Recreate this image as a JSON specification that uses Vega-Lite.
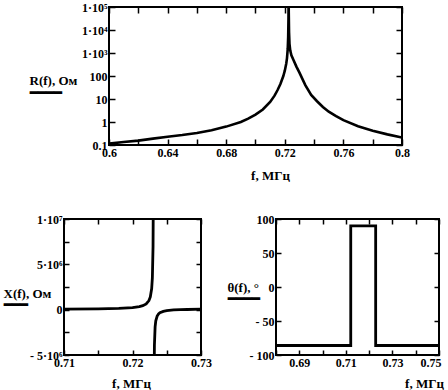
{
  "$schema": "https://vega.github.io/schema/vega-lite/v6.json",
  "padding": {"left": 2, "top": 0, "right": 0, "bottom": 0},
  "spacing": 29,
  "config": {
    "font": "Liberation Serif",
    "view": {"stroke": "black", "strokeWidth": 2},
    "axis": {
      "domain": false, "grid": false, "minExtent": 0,
      "tickColor": "black", "tickWidth": 1.5, "tickSize": -5, "labelPadding": 7,
      "labelFont": "Liberation Serif", "labelFontSize": 12, "labelFontWeight": "bold", "labelColor": "black",
      "titleFont": "Liberation Serif", "titleFontSize": 13, "titleFontWeight": "bold", "titleColor": "black",
      "labelFlush": false, "labelOverlap": false
    }
  },
  "datasets": {
    "R": [
      {"f": 0.600, "R": 0.115}, {"f": 0.610, "R": 0.135}, {"f": 0.620, "R": 0.155}, {"f": 0.630, "R": 0.19},
      {"f": 0.640, "R": 0.23}, {"f": 0.650, "R": 0.27}, {"f": 0.660, "R": 0.33}, {"f": 0.670, "R": 0.44},
      {"f": 0.680, "R": 0.63}, {"f": 0.690, "R": 1.0}, {"f": 0.695, "R": 1.4}, {"f": 0.700, "R": 2.1},
      {"f": 0.705, "R": 3.5}, {"f": 0.710, "R": 7.5}, {"f": 0.713, "R": 14}, {"f": 0.715, "R": 24},
      {"f": 0.717, "R": 45}, {"f": 0.719, "R": 100}, {"f": 0.720, "R": 170}, {"f": 0.721, "R": 350},
      {"f": 0.7215, "R": 600}, {"f": 0.722, "R": 1500}, {"f": 0.7223, "R": 5000}, {"f": 0.7225, "R": 30000},
      {"f": 0.7226, "R": 300000}, {"f": 0.7227, "R": 60000}, {"f": 0.7229, "R": 8000}, {"f": 0.7232, "R": 2500},
      {"f": 0.7237, "R": 1300}, {"f": 0.7245, "R": 800}, {"f": 0.726, "R": 480}, {"f": 0.728, "R": 250},
      {"f": 0.730, "R": 140}, {"f": 0.734, "R": 40}, {"f": 0.738, "R": 15}, {"f": 0.742, "R": 8},
      {"f": 0.746, "R": 4.5}, {"f": 0.750, "R": 2.8}, {"f": 0.755, "R": 1.8}, {"f": 0.760, "R": 1.2},
      {"f": 0.770, "R": 0.65}, {"f": 0.780, "R": 0.42}, {"f": 0.790, "R": 0.29}, {"f": 0.800, "R": 0.21}
    ],
    "X": [
      {"f": 0.7100, "X": 53000, "b": "a"}, {"f": 0.7150, "X": 86000, "b": "a"}, {"f": 0.7180, "X": 137000, "b": "a"},
      {"f": 0.7200, "X": 226000, "b": "a"}, {"f": 0.7210, "X": 333000, "b": "a"}, {"f": 0.7215, "X": 437000, "b": "a"},
      {"f": 0.7220, "X": 636000, "b": "a"}, {"f": 0.7224, "X": 1000000, "b": "a"}, {"f": 0.7226, "X": 1400000, "b": "a"},
      {"f": 0.7228, "X": 2330000, "b": "a"}, {"f": 0.7229, "X": 3500000, "b": "a"}, {"f": 0.7230, "X": 7000000, "b": "a"},
      {"f": 0.72305, "X": 14000000, "b": "a"},
      {"f": 0.72315, "X": -8000000, "b": "b"}, {"f": 0.7232, "X": -3900000, "b": "b"}, {"f": 0.7233, "X": -1900000, "b": "b"},
      {"f": 0.7234, "X": -1230000, "b": "b"}, {"f": 0.7236, "X": -700000, "b": "b"}, {"f": 0.7238, "X": -470000, "b": "b"},
      {"f": 0.7240, "X": -340000, "b": "b"}, {"f": 0.7245, "X": -190000, "b": "b"}, {"f": 0.7250, "X": -110000, "b": "b"},
      {"f": 0.7260, "X": -30000, "b": "b"}, {"f": 0.7270, "X": 0, "b": "b"}, {"f": 0.7280, "X": 20000, "b": "b"},
      {"f": 0.7300, "X": 60000, "b": "b"}
    ],
    "T": [
      {"f": 0.680, "t": -86}, {"f": 0.7121, "t": 90}, {"f": 0.7228, "t": -86}, {"f": 0.750, "t": -86}
    ]
  },
  "vconcat": [
    {
      "spacing": -37,
      "hconcat": [
        {
          "width": 1, "height": 1,
          "view": {"stroke": null},
          "data": {"values": [{"v": 0}]},
          "mark": {"type": "point", "opacity": 0, "size": 0},
          "encoding": {}
        },
        {
          "width": 293, "height": 138,
          "data": {"name": "R"},
          "resolve": {"axis": {"x": "independent", "y": "independent"}},
          "layer": [
            {
              "mark": {"type": "line", "color": "black", "strokeWidth": 2.6, "clip": true},
              "encoding": {
                "x": {"field": "f", "type": "quantitative",
                  "scale": {"domain": [0.6, 0.8], "nice": false, "zero": false},
                  "axis": {"orient": "bottom", "tickSize": -6, "labelPadding": 8,
                    "values": [0.6, 0.62, 0.64, 0.66, 0.68, 0.7, 0.72, 0.74, 0.76, 0.78, 0.8],
                    "labelExpr": "indexof(['0.6','0.64','0.68','0.72','0.76','0.8'], format(datum.value, '.2~f')) >= 0 ? format(datum.value, '.2~f') : ''",
                    "title": "f, МГц", "titleX": 161, "titleY": 30, "titleBaseline": "middle"}},
                "y": {"field": "R", "type": "quantitative",
                  "scale": {"type": "log", "domain": [0.1, 100000], "nice": false},
                  "axis": {"orient": "left", "tickSize": -6, "labelPadding": 8,
                    "values": [0.1, 1, 10, 100, 1000, 10000, 100000],
                    "labelExpr": "datum.value < 0.5 ? '0.1' : datum.value < 500 ? format(datum.value, 'd') : datum.value < 5000 ? '1·10³' : datum.value < 50000 ? '1·10⁴' : '1·10⁵'",
                    "title": ["R(f), Ом", "━━━━"], "titleAngle": 0, "titleAlign": "left", "titleBaseline": "middle",
                    "titleX": -80, "titleY": 73, "titleLineHeight": 12}}
              }
            },
            {
              "mark": {"type": "line", "opacity": 0, "clip": true},
              "encoding": {
                "x": {"field": "f", "type": "quantitative",
                  "scale": {"domain": [0.6, 0.8], "nice": false, "zero": false},
                  "axis": {"orient": "top", "tickSize": -6, "labels": false, "title": null,
                    "values": [0.6, 0.62, 0.64, 0.66, 0.68, 0.7, 0.72, 0.74, 0.76, 0.78, 0.8]}},
                "y": {"field": "R", "type": "quantitative",
                  "scale": {"type": "log", "domain": [0.1, 100000], "nice": false},
                  "axis": {"orient": "right", "tickSize": -6, "labels": false, "title": null,
                    "values": [0.1, 1, 10, 100, 1000, 10000, 100000]}}
              }
            }
          ]
        }
      ]
    },
    {
      "spacing": 13,
      "hconcat": [
        {
          "width": 137, "height": 136,
          "data": {"name": "X"},
          "resolve": {"axis": {"x": "independent", "y": "independent"}},
          "layer": [
            {
              "mark": {"type": "line", "color": "black", "strokeWidth": 2.8, "clip": true},
              "encoding": {
                "detail": {"field": "b"},
                "x": {"field": "f", "type": "quantitative",
                  "scale": {"domain": [0.71, 0.73], "nice": false, "zero": false},
                  "axis": {"orient": "bottom",
                    "values": [0.71, 0.715, 0.72, 0.725, 0.73],
                    "labelExpr": "indexof(['0.71','0.72','0.73'], format(datum.value, '.3~f')) >= 0 ? format(datum.value, '.3~f') : ''",
                    "title": "f, МГц", "titleX": 67, "titleY": 28, "titleBaseline": "middle"}},
                "y": {"field": "X", "type": "quantitative",
                  "scale": {"domain": [-5000000, 10000000], "nice": false, "zero": false},
                  "axis": {"orient": "left",
                    "values": [-5000000, -2500000, 0, 2500000, 5000000, 7500000, 10000000],
                    "labelExpr": "datum.value == 10000000 ? '1·10⁷' : datum.value == 5000000 ? '5·10⁶' : datum.value == 0 ? '0' : datum.value == -5000000 ? '- 5·10⁶' : ''",
                    "title": ["X(f), Ом", "━━━"], "titleAngle": 0, "titleAlign": "left", "titleBaseline": "middle",
                    "titleX": -61, "titleY": 74, "titleLineHeight": 11}}
              }
            },
            {
              "mark": {"type": "line", "opacity": 0, "clip": true},
              "encoding": {
                "detail": {"field": "b"},
                "x": {"field": "f", "type": "quantitative",
                  "scale": {"domain": [0.71, 0.73], "nice": false, "zero": false},
                  "axis": {"orient": "top", "labels": false, "title": null,
                    "values": [0.71, 0.715, 0.72, 0.725, 0.73]}},
                "y": {"field": "X", "type": "quantitative",
                  "scale": {"domain": [-5000000, 10000000], "nice": false, "zero": false},
                  "axis": {"orient": "right", "labels": false, "title": null,
                    "values": [-5000000, -2500000, 0, 2500000, 5000000, 7500000, 10000000]}}
              }
            }
          ]
        },
        {
          "width": 163, "height": 136,
          "data": {"name": "T"},
          "resolve": {"axis": {"x": "independent", "y": "independent"}},
          "layer": [
            {
              "mark": {"type": "line", "color": "black", "strokeWidth": 2.8, "clip": true, "interpolate": "step-after"},
              "encoding": {
                "x": {"field": "f", "type": "quantitative",
                  "scale": {"domain": [0.68, 0.75], "nice": false, "zero": false},
                  "axis": {"orient": "bottom",
                    "values": [0.68, 0.69, 0.7, 0.71, 0.72, 0.73, 0.74, 0.75],
                    "labelExpr": "indexof(['0.69','0.71','0.73','0.75'], format(datum.value, '.2~f')) >= 0 ? format(datum.value, '.2~f') : ''",
                    "labelFlush": true, "labelFlushOffset": 2,
                    "title": "f, МГц", "titleX": 148, "titleY": 28, "titleBaseline": "middle"}},
                "y": {"field": "t", "type": "quantitative",
                  "scale": {"domain": [-100, 100], "nice": false, "zero": false},
                  "axis": {"orient": "left",
                    "values": [-100, -50, 0, 50, 100],
                    "labelExpr": "datum.value < 0 ? '- ' + abs(datum.value) : '' + datum.value",
                    "title": ["θ(f), °", "━━━━"], "titleAngle": 0, "titleAlign": "left", "titleBaseline": "middle",
                    "titleX": -49, "titleY": 68, "titleLineHeight": 11}}
              }
            },
            {
              "mark": {"type": "line", "opacity": 0, "clip": true},
              "encoding": {
                "x": {"field": "f", "type": "quantitative",
                  "scale": {"domain": [0.68, 0.75], "nice": false, "zero": false},
                  "axis": {"orient": "top", "labels": false, "title": null,
                    "values": [0.68, 0.69, 0.7, 0.71, 0.72, 0.73, 0.74, 0.75]}},
                "y": {"field": "t", "type": "quantitative",
                  "scale": {"domain": [-100, 100], "nice": false, "zero": false},
                  "axis": {"orient": "right", "labels": false, "title": null,
                    "values": [-100, -50, 0, 50, 100]}}
              }
            }
          ]
        }
      ]
    }
  ]
}
